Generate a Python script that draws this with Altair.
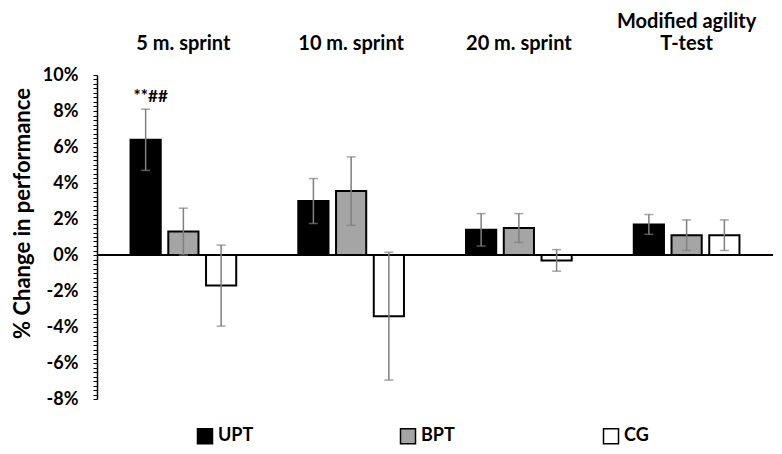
import altair as alt
import pandas as pd

groups = ["5 m. sprint", "10 m. sprint", "20 m. sprint", "Modified agility\nT-test"]
series = ["UPT", "BPT", "CG"]
upt = [6.4, 3.0, 1.4, 1.7]
upt_err = [1.7, 1.25, 0.9, 0.55]
bpt = [1.3, 3.55, 1.5, 1.1]
bpt_err = [1.3, 1.9, 0.8, 0.85]
cg = [-1.7, -3.4, -0.3, 1.1]
cg_err = [2.25, 3.55, 0.6, 0.85]
annot_text = ["**##"]
annot_group = ["5 m. sprint"]
annot_series = ["UPT"]
annot_y = [8.8]

rows = []
for s, vals, errs in zip(series, [upt, bpt, cg], [upt_err, bpt_err, cg_err]):
    for g, v, e in zip(groups, vals, errs):
        rows.append({"group": g, "series": s, "value": v, "lo": v - e, "hi": v + e})
df = pd.DataFrame(rows)
annot = pd.DataFrame({"group": annot_group, "series": annot_series, "y": annot_y, "text": annot_text})
zero = pd.DataFrame({"value": [0]})

FONT = "Lato"
xscale = alt.Scale(domain=groups, paddingInner=0.37, paddingOuter=0.2)
xoff = alt.Scale(domain=series, paddingInner=0.2, paddingOuter=0)
yscale = alt.Scale(domain=[-8, 10], nice=False, zero=False)
tick_vals = [-8 + 0.25 * i for i in range(73)]

xaxis = alt.Axis(orient="top", title=None, labelAngle=0, domain=False, ticks=False,
                 labelFont=FONT, labelFontSize=20, labelFontWeight="bold",
                 labelColor="black", labelPadding=44, labelLineHeight=22,
                 labelExpr="indexof(datum.label, '\\n') >= 0 ? split(datum.label, '\\n') : ['', datum.label]",
                 labelLimit=300)
yaxis = alt.Axis(values=tick_vals, title="% Change in performance",
                 labelExpr="datum.value % 2 == 0 ? datum.value + '%' : ''",
                 labelOverlap=False, labelFont=FONT, labelFontSize=18,
                 labelFontWeight="bold", labelColor="black", labelPadding=15,
                 tickSize=4, tickColor="black", tickWidth=1,
                 domainColor="black", domainWidth=1.5, grid=False,
                 titleFont=FONT, titleFontSize=22, titleFontWeight="bold",
                 titleColor="black", titleAngle=270, titleX=-75, titleY=138,
                 titleAlign="center", titleBaseline="middle")

X = alt.X("group:N", scale=xscale, sort=groups, axis=xaxis, title=None)
XO = alt.XOffset("series:N", scale=xoff, sort=series)
TITLE = "% Change in performance"

base = alt.Chart(df)

bars = base.mark_bar(stroke="black", strokeWidth=2).encode(
    x=X, xOffset=XO,
    y=alt.Y("value:Q", scale=yscale, axis=yaxis, title=TITLE),
    y2=alt.datum(0),
    fill=alt.Fill("series:N", scale=alt.Scale(domain=series, range=["#000000", "#a5a5a5", "#ffffff"]),
                  legend=alt.Legend(title=None, orient="none", direction="horizontal",
                                    legendX=99, legendY=352, gridAlign="all",
                                    columnPadding=143, symbolType="square", symbolSize=225,
                                    symbolStrokeColor="black", symbolStrokeWidth=1.5,
                                    labelFont=FONT, labelFontSize=18, labelFontWeight="bold",
                                    labelColor="black", labelOffset=4)),
)

err = base.mark_rule(color="#7f7f7f", strokeWidth=1.5).encode(
    x=X, xOffset=XO,
    y=alt.Y("lo:Q", scale=yscale, axis=yaxis, title=TITLE),
    y2="hi:Q",
)
cap_lo = base.mark_tick(color="#7f7f7f", thickness=1.5, size=9, orient="horizontal").encode(
    x=X, xOffset=XO,
    y=alt.Y("lo:Q", scale=yscale, axis=yaxis, title=TITLE),
)
cap_hi = base.mark_tick(color="#7f7f7f", thickness=1.5, size=9, orient="horizontal").encode(
    x=X, xOffset=XO,
    y=alt.Y("hi:Q", scale=yscale, axis=yaxis, title=TITLE),
)

zline = alt.Chart(zero).mark_rule(color="black", strokeWidth=2).encode(
    y=alt.Y("value:Q", scale=yscale, axis=yaxis, title=TITLE)
)

ann = alt.Chart(annot).mark_text(font=FONT, fontSize=17, fontWeight="bold", color="black",
                                  baseline="middle", dx=5).encode(
    x=X, xOffset=XO,
    y=alt.Y("y:Q", scale=yscale, axis=yaxis, title=TITLE),
    text="text:N",
)

chart = alt.layer(bars, zline, err, cap_lo, cap_hi, ann).properties(
    width=676, height=324,
    autosize=alt.AutoSizeParams(type="none"),
    padding={"left": 89, "top": 67, "right": 1, "bottom": 47},
    background="white",
).configure_view(stroke=None)

chart.save("out.html", embed_options={"renderer": "svg", "actions": False})
